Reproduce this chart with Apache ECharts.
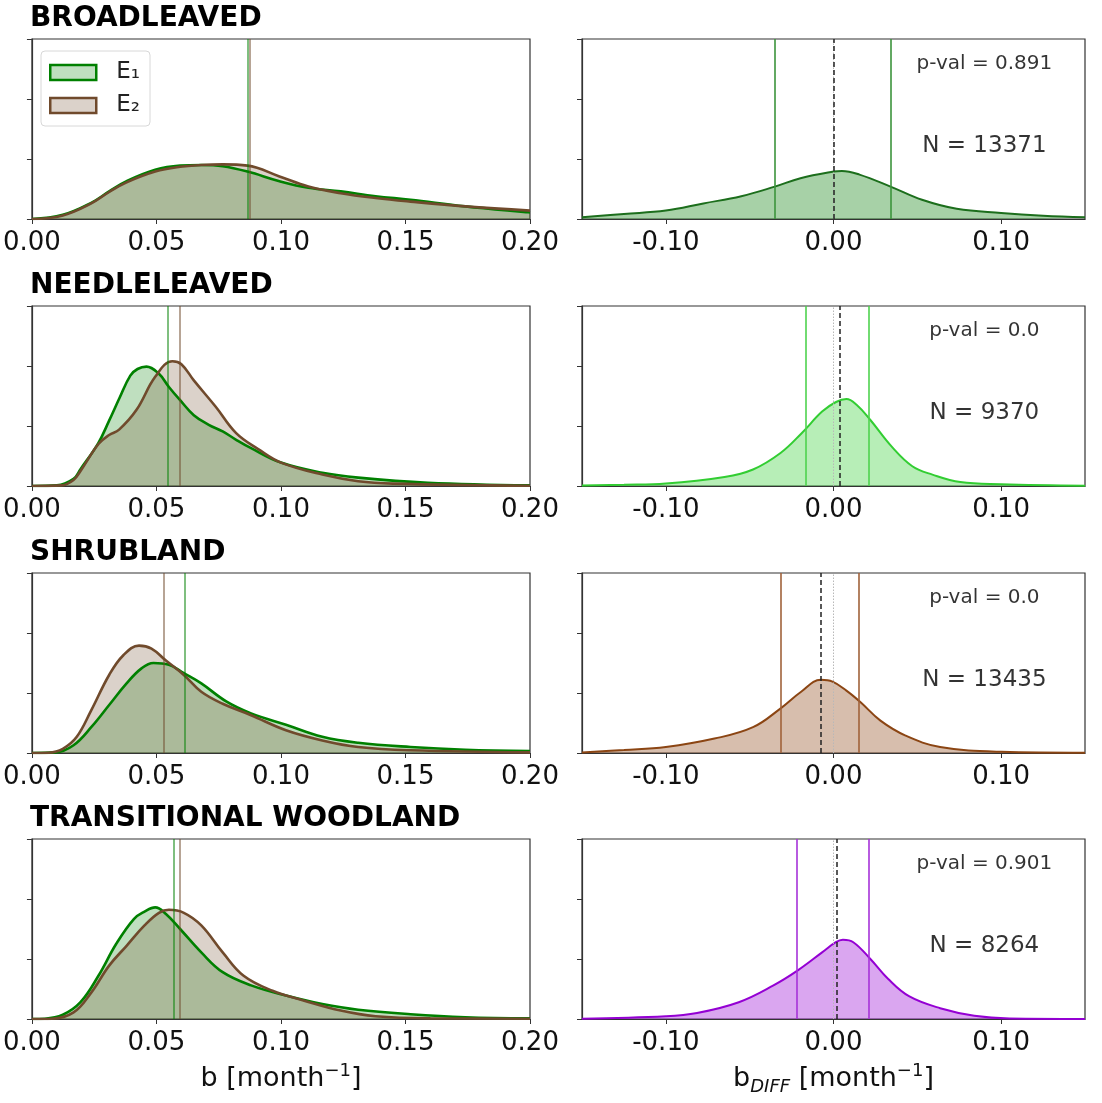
<!DOCTYPE html>
<html><head><meta charset="utf-8">
<script src="https://cdn.jsdelivr.net/npm/echarts@6/dist/echarts.min.js"></script>
<style>html,body{margin:0;padding:0;background:#fff}#c{width:1102px;height:1103px}</style>
</head><body><div id="c"></div>
<script>
// ---------------- DATA ----------------
const panelTitles = ['BROADLEAVED', 'NEEDLELEAVED', 'SHRUBLAND', 'TRANSITIONAL WOODLAND'];
const seriesNames = ['E₁', 'E₂'];
const leftTicks = [0, 0.05, 0.1, 0.15, 0.2];
const rightTicks = [-0.1, 0, 0.1];
const pValues = ['0.891', '0.0', '0.0', '0.901'];
const sampleN = [13371, 9370, 13435, 8264];

// density curves of b for E1 / E2  [b, density]
const broadE1 = [[0,0],[0.0124,0.7],[0.0238,2.7],[0.031,4.6],[0.038,6.3],[0.0495,8.2],[0.0595,8.9],[0.068,9.0],[0.0766,8.8],[0.0866,7.9],[0.0994,6.3],[0.111,5.2],[0.124,4.6],[0.138,3.8],[0.152,3.2],[0.174,2.1],[0.2,1.1]];
const broadE2 = [[0,0],[0.0124,0.6],[0.0238,2.6],[0.031,4.5],[0.038,6.1],[0.0495,7.9],[0.0595,8.7],[0.068,9.0],[0.0766,9.1],[0.0866,8.9],[0.0994,7.1],[0.111,5.4],[0.124,4.3],[0.138,3.5],[0.152,2.9],[0.174,2.1],[0.2,1.4]];
const needleE1 = [[0,0],[0.01,0.1],[0.0167,1.2],[0.0195,2.8],[0.0267,7.2],[0.031,10.9],[0.0352,14.7],[0.0395,18.4],[0.0424,19.5],[0.046,19.9],[0.051,18.7],[0.055,16.5],[0.0595,14.3],[0.065,11.8],[0.071,10.2],[0.0766,9.1],[0.082,7.7],[0.088,6.3],[0.1,3.9],[0.1166,2.2],[0.131,1.4],[0.159,0.55],[0.2,0.1]];
const needleE2 = [[0,0],[0.012,0.1],[0.0167,1.0],[0.0195,2.5],[0.0267,7.0],[0.031,8.5],[0.035,9.4],[0.042,12.7],[0.0495,18.2],[0.0564,20.8],[0.06,20.3],[0.065,17.6],[0.0738,13.2],[0.082,8.8],[0.091,6.1],[0.1,3.9],[0.1166,1.9],[0.131,0.8],[0.145,0.4],[0.2,0.05]];
const shrubE1 = [[0,0],[0.0095,0.1],[0.0167,1.3],[0.0238,4.3],[0.031,8.0],[0.038,11.6],[0.044,14.1],[0.0488,15.0],[0.055,14.7],[0.061,13.3],[0.068,11.6],[0.078,8.6],[0.088,6.6],[0.102,4.7],[0.1166,2.7],[0.131,1.7],[0.152,1.0],[0.174,0.55],[0.2,0.33]];
const shrubE2 = [[0,0],[0.0067,0.05],[0.0124,0.7],[0.018,2.7],[0.0238,7.1],[0.031,13.0],[0.0367,16.3],[0.043,17.9],[0.048,17.4],[0.0538,15.4],[0.061,13.0],[0.068,10.2],[0.0766,8.2],[0.088,6.3],[0.102,3.8],[0.1166,2.1],[0.131,1.0],[0.152,0.45],[0.2,0.1]];
const transE1 = [[0,0],[0.0052,0.05],[0.0124,0.7],[0.0195,2.8],[0.0267,7.2],[0.0338,12.5],[0.041,16.7],[0.0452,17.9],[0.0495,18.6],[0.0538,17.5],[0.0595,15.0],[0.068,11.1],[0.0766,7.8],[0.088,5.6],[0.102,3.9],[0.1166,2.5],[0.131,1.55],[0.152,0.8],[0.174,0.3],[0.2,0.1]];
const transE2 = [[0,0],[0.008,0.05],[0.0167,1.1],[0.0238,4.4],[0.031,8.9],[0.038,12.2],[0.0452,15.6],[0.051,17.7],[0.055,18.2],[0.061,17.7],[0.068,15.6],[0.0766,11.1],[0.085,7.2],[0.0966,4.7],[0.109,3.1],[0.124,1.4],[0.138,0.45],[0.16,0.1],[0.2,0.05]];

// density curves of b_DIFF  [bDiff, density]
const broadDiff = [[-0.15,0.3],[-0.125,0.85],[-0.1,1.4],[-0.0776,2.6],[-0.055,3.8],[-0.035,5.4],[-0.0197,6.8],[0,7.9],[0.005,8.0],[0.0155,7.4],[0.034,5.4],[0.0528,3.2],[0.0735,1.7],[0.1,1.0],[0.125,0.55],[0.15,0.3]];
const needleDiff = [[-0.15,0.1],[-0.125,0.2],[-0.1,0.4],[-0.065,1.5],[-0.048,2.75],[-0.0316,5.5],[-0.019,8.8],[-0.0068,12.4],[0.0015,14.0],[0.0077,14.5],[0.0139,13.5],[0.022,11.0],[0.0346,6.6],[0.047,3.3],[0.059,1.9],[0.0756,0.66],[0.1,0.3],[0.15,0.05]];
const shrubDiff = [[-0.15,0.1],[-0.125,0.5],[-0.1,1.0],[-0.071,2.4],[-0.048,4.3],[-0.0317,7.4],[-0.0193,10.2],[-0.0075,12.2],[-0.0006,11.9],[0.0077,10.4],[0.016,8.5],[0.028,5.4],[0.043,2.9],[0.0636,1.0],[0.1,0.2],[0.15,0.05]];
const transDiff = [[-0.15,0.05],[-0.1,0.45],[-0.0814,1.0],[-0.0565,2.8],[-0.0358,5.6],[-0.0213,8.1],[-0.0068,11.1],[0.0014,12.8],[0.0056,13.2],[0.0118,12.8],[0.022,10.0],[0.0325,6.7],[0.045,3.8],[0.0636,1.8],[0.084,0.55],[0.105,0.1],[0.15,0.02]];

// medians of b (E1, E2) and of b_DIFF quantiles / mean
const medianE1 = [0.0866, 0.0545, 0.0612, 0.0569];
const medianE2 = [0.0874, 0.0595, 0.0531, 0.0595];
const diffLow = [-0.035, -0.0166, -0.0317, -0.0222];
const diffHigh = [0.0342, 0.0213, 0.0149, 0.0213];
const diffMean = [0.0003, 0.0035, -0.0079, 0.0019];

const leftCurves = [[broadE1, broadE2], [needleE1, needleE2], [shrubE1, shrubE2], [transE1, transE2]];
const rightCurves = [broadDiff, needleDiff, shrubDiff, transDiff];

// ---------------- STYLE / LAYOUT ----------------
const FONT = 'DejaVu Sans';
const rowTop = [39, 306, 573, 839];
const gridH = 180;
const e1Style = { line: '#008000', fill: 'rgba(0,128,0,0.25)', vline: 'rgba(0,128,0,0.5)' };
const e2Style = { line: '#704a2c', fill: 'rgba(112,74,44,0.25)', vline: 'rgba(112,74,44,0.5)' };
const diffStyles = [
  { line: '#1c6e1c', fill: 'rgba(34,139,34,0.4)', vline: '#3c943c' },
  { line: '#32cd32', fill: 'rgba(50,205,50,0.35)', vline: '#4fd24f' },
  { line: '#8b4513', fill: 'rgba(139,69,19,0.35)', vline: '#a0623a' },
  { line: '#9400d3', fill: 'rgba(148,0,211,0.35)', vline: '#a633d9' }
];
const annotX = 0.09, pY = 25.8, nY = 12.2;
const axisColor = '#333';

const grids = [], xAxes = [], yAxes = [], series = [], titles = [];
const nameRich = {
  n: { fontSize: 27, lineHeight: 34, fontFamily: FONT, color: '#111' },
  sup: { fontSize: 18, lineHeight: 14, verticalAlign: 'top', fontFamily: FONT, color: '#111' },
  sub: { fontSize: 18, lineHeight: 14, verticalAlign: 'bottom', fontStyle: 'italic', fontFamily: FONT, color: '#111' }
};

for (let r = 0; r < 4; r++) {
  titles.push({ text: panelTitles[r], left: 30, top: rowTop[r] - 34, padding: 0,
    textStyle: { fontFamily: FONT, fontWeight: 'bold', fontSize: 28, color: '#000' } });
  for (let c = 0; c < 2; c++) {
    const gi = r * 2 + c;
    grids.push({ left: c ? 582 : 29, top: rowTop[r], width: c ? 503 : 501, height: gridH,
      show: true, borderColor: axisColor, borderWidth: 1.2, backgroundColor: 'transparent' });
    const xa = {
      type: 'value', gridIndex: gi, min: c ? -0.15 : 0, max: c ? 0.15 : 0.2,
      axisLine: { show: true, onZero: false, lineStyle: { color: axisColor, width: 1.2 } },
      axisTick: { show: true, length: 5, lineStyle: { color: axisColor } },
      splitLine: { show: false },
      axisLabel: { fontSize: 26, fontFamily: FONT, color: '#111', margin: 11,
        formatter: v => Number(v).toFixed(2) }
    };
    if (c) {
      xa.axisLabel.customValues = rightTicks;
      xa.axisTick.customValues = rightTicks;
    } else {
      xa.interval = 0.05;
      xa.axisLabel.customValues = leftTicks;
      xa.axisTick.customValues = leftTicks;
    }
    if (r === 3) {
      xa.name = c ? '{n|b}{sub|DIFF}{n| [month}{sup|−1}{n|]}' : '{n|b [month}{sup|−1}{n|]}';
      xa.nameLocation = 'middle';
      xa.nameGap = 43;
      xa.nameTextStyle = { rich: nameRich };
    }
    xAxes.push(xa);
    yAxes.push({ type: 'value', gridIndex: gi, min: 0, max: 30, interval: 10,
      axisLine: { show: true, onZero: false, lineStyle: { color: axisColor, width: 1.2 } },
      axisTick: { show: true, length: 5, lineStyle: { color: axisColor } },
      axisLabel: { show: false }, splitLine: { show: false } });

    const ml = (items) => ({ silent: true, symbol: ['none', 'none'], animation: false, precision: 5,
      label: { show: false }, emphasis: { disabled: true }, data: items });

    if (c === 0) {
      [e1Style, e2Style].forEach((st, k) => {
        series.push({
          type: 'line', name: seriesNames[k], xAxisIndex: gi, yAxisIndex: gi,
          data: leftCurves[r][k], smooth: 0.4, symbol: 'none',
          lineStyle: { color: st.line, width: 2.6 }, itemStyle: { color: st.line },
          areaStyle: { color: st.fill, opacity: 1 }, animation: false, silent: true,
          markLine: ml([{ xAxis: k === 0 ? medianE1[r] : medianE2[r],
            lineStyle: { color: st.vline, width: 2, type: 'solid' } }])
        });
      });
    } else {
      const st = diffStyles[r];
      series.push({
        type: 'line', name: 'diff' + r, xAxisIndex: gi, yAxisIndex: gi,
        data: rightCurves[r], smooth: 0.4, symbol: 'none',
        lineStyle: { color: st.line, width: 2 }, itemStyle: { color: st.line },
        areaStyle: { color: st.fill, opacity: 1 }, animation: false, silent: true,
        markLine: ml([
          { xAxis: 0, lineStyle: { color: '#b8b8b8', width: 1, type: [1.5, 1.5] } },
          { xAxis: diffLow[r], lineStyle: { color: st.vline, width: 1.6, type: 'solid' } },
          { xAxis: diffHigh[r], lineStyle: { color: st.vline, width: 1.6, type: 'solid' } },
          { xAxis: diffMean[r], lineStyle: { color: '#222', width: 1.5, type: [5, 3] } }
        ])
      });
      series.push({
        type: 'scatter', xAxisIndex: gi, yAxisIndex: gi, symbolSize: 0, silent: true, animation: false,
        label: { show: true, position: 'inside', color: '#000', fontFamily: FONT },
        data: [
          { value: [annotX, pY], label: { formatter: 'p-val = ' + pValues[r], fontSize: 20, color: '#000' } },
          { value: [annotX, nY], label: { formatter: 'N = ' + sampleN[r], fontSize: 23, color: '#000' } }
        ]
      });
    }
  }
}

const chart = echarts.init(document.getElementById('c'), null, { renderer: 'canvas' });
chart.setOption({
  backgroundColor: '#fff',
  animation: false,
  textStyle: { fontFamily: FONT },
  title: titles,
  legend: {
    left: 41, top: 51, orient: 'vertical', selectedMode: false,
    data: [
      { name: seriesNames[0], icon: 'rect', itemStyle: { color: 'rgba(0,128,0,0.25)', borderColor: e1Style.line, borderWidth: 2.5 } },
      { name: seriesNames[1], icon: 'rect', itemStyle: { color: 'rgba(112,74,44,0.25)', borderColor: e2Style.line, borderWidth: 2.5 } }
    ],
    itemWidth: 46, itemHeight: 15, itemGap: 10,
    textStyle: { fontSize: 23, color: '#222', fontFamily: FONT, padding: [0, 0, 0, 15] },
    padding: [10, 10, 9, 8], borderColor: '#d8d8d8', borderWidth: 1, borderRadius: 4,
    backgroundColor: 'rgba(255,255,255,0.8)'
  },
  grid: grids, xAxis: xAxes, yAxis: yAxes, series: series
});
</script></body></html>
